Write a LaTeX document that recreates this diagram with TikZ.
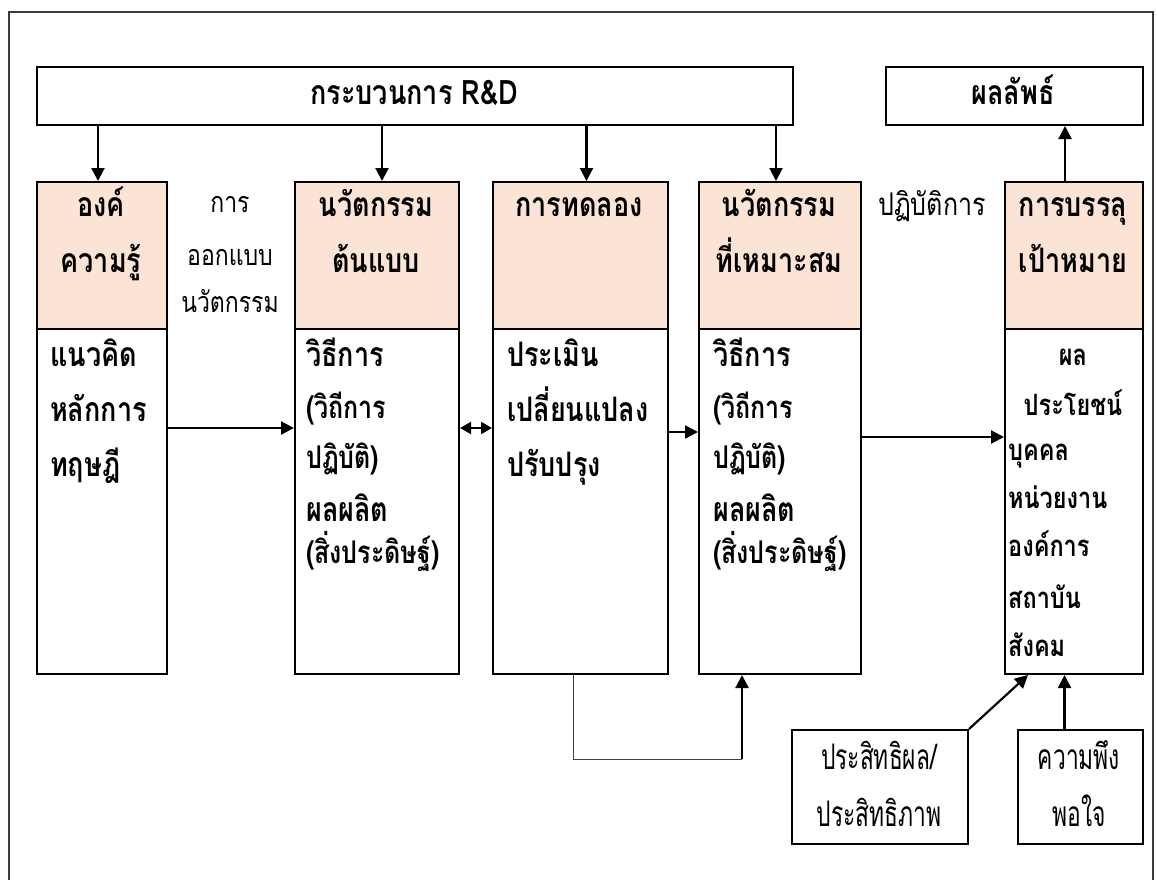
\documentclass[tikz,border=0pt]{standalone}
\usepackage{graphicx}
\usepackage{fontspec}
\setmainfont[Script=Thai]{Loma}
\usetikzlibrary{arrows.meta}
\definecolor{peach}{HTML}{FBE4D5}
\definecolor{framegray}{HTML}{3A3A3A}
% text styles: the face is drawn a little taller than Loma's own proportions
\newcommand\bt[1]{\scalebox{1}[1.25]{\fontsize{27}{27}\selectfont\bfseries #1}}
\newcommand\bs[1]{\scalebox{1}[1.25]{\fontsize{25}{25}\selectfont\bfseries #1}}
\newcommand\bg[1]{\scalebox{1}[1.25]{\fontsize{23.5}{23.5}\selectfont\bfseries #1}}
\newcommand\rt[1]{\scalebox{1}[1.25]{\fontsize{23}{23}\selectfont #1}}
\newcommand\rb[1]{\scalebox{1}[1.25]{\fontsize{25}{25}\selectfont #1}}
\newcommand\rc[1]{\scalebox{0.97}[1.5]{\fontsize{23.5}{23.5}\selectfont #1}}
\begin{document}
\begin{tikzpicture}[x=1pt,y=-1pt,
  box/.style={draw, line width=2pt, inner sep=0pt, anchor=north west},
  head/.style={box, fill=peach},
  arr/.style={line width=2.2pt, -{Triangle[width=13pt,length=13pt]}},
  darr/.style={line width=2.2pt, {Triangle[width=12pt,length=11pt]}-{Triangle[width=12pt,length=11pt]}},
  lbl/.style={inner sep=0pt, anchor=base west},
  clbl/.style={inner sep=0pt, anchor=base}]
\useasboundingbox (0,0) rectangle (1157,879);
\clip (0,0) rectangle (1157,879);
\fill[white] (0,0) rectangle (1157,879);
% outer frame, open at the foot of the page
\draw[framegray, line width=2.4pt] (9,900) -- (9,12) -- (1153,12) -- (1153,900);

% top bars
\node[box, minimum width=756pt, minimum height=58pt] (rd) at (36,66) {};
\node[clbl] (rdt) at (414,104) {\bt{กระบวนการ R\&D}};
\node[box, minimum width=257pt, minimum height=58pt] (res) at (885,66) {};
\node[clbl] (rest) at (1013,104) {\bt{ผลลัพธ์}};

% column heads
\node[head, minimum width=130pt, minimum height=147pt] (k1t) at (36,181) {};
\node[head, minimum width=164pt, minimum height=147pt] (k2t) at (294,181) {};
\node[head, minimum width=175pt, minimum height=147pt] (k3t) at (492,181) {};
\node[head, minimum width=162pt, minimum height=147pt] (k4t) at (698,181) {};
\node[head, minimum width=138pt, minimum height=147pt] (k5t) at (1004,181) {};
% column bodies
\node[box, minimum width=130pt, minimum height=345pt] (k1b) at (36,328) {};
\node[box, minimum width=164pt, minimum height=345pt] (k2b) at (294,328) {};
\node[box, minimum width=175pt, minimum height=345pt] (k3b) at (492,328) {};
\node[box, minimum width=162pt, minimum height=345pt] (k4b) at (698,328) {};
\node[box, minimum width=138pt, minimum height=345pt] (k5b) at (1004,328) {};

% head titles
\node[clbl] (h1a) at (101,216) {\bt{องค์}};
\node[clbl] (h1b) at (101,272) {\bt{ความรู้}};
\node[clbl] (h2a) at (376,216) {\bt{นวัตกรรม}};
\node[clbl] (h2b) at (376,272) {\bt{ต้นแบบ}};
\node[clbl] (h3a) at (579,216) {\bt{การทดลอง}};
\node[clbl] (h4a) at (779,216) {\bt{นวัตกรรม}};
\node[clbl] (h4b) at (779,272) {\bt{ที่เหมาะสม}};
\node[clbl] (h5a) at (1073,216) {\bt{การบรรลุ}};
\node[clbl] (h5b) at (1073,272) {\bt{เป้าหมาย}};

% labels between the heads
\node[clbl] (s1) at (230,212) {\rt{การ}};
\node[clbl] (s2) at (230,265) {\rt{ออกแบบ}};
\node[clbl] (s3) at (230,312) {\rt{นวัตกรรม}};
\node[clbl] (s4) at (932,215) {\rb{ปฏิบัติการ}};

% body texts
\node[lbl] (b11) at (50,366) {\bt{แนวคิด}};
\node[lbl] (b12) at (50,421) {\bt{หลักการ}};
\node[lbl] (b13) at (50,476) {\bt{ทฤษฎี}};

\node[lbl] (b21) at (306,366) {\bt{วิธีการ}};
\node[lbl] (b22) at (306,418) {\bs{(วิถีการ}};
\node[lbl] (b23) at (306,468) {\bs{ปฏิบัติ)}};
\node[lbl] (b24) at (306,521) {\bt{ผลผลิต}};
\node[lbl] (b25) at (306,563) {\bs{(สิ่งประดิษฐ์)}};

\node[lbl] (b31) at (507,366) {\bt{ประเมิน}};
\node[lbl] (b32) at (507,421) {\bt{เปลี่ยนแปลง}};
\node[lbl] (b33) at (507,476) {\bt{ปรับปรุง}};

\node[lbl] (b41) at (713,366) {\bt{วิธีการ}};
\node[lbl] (b42) at (713,418) {\bs{(วิถีการ}};
\node[lbl] (b43) at (713,468) {\bs{ปฏิบัติ)}};
\node[lbl] (b44) at (713,521) {\bt{ผลผลิต}};
\node[lbl] (b45) at (713,563) {\bs{(สิ่งประดิษฐ์)}};

\node[clbl] (b51) at (1073,365) {\bg{ผล}};
\node[clbl] (b52) at (1073,415) {\bg{ประโยชน์}};
\node[lbl] (b53) at (1008,460) {\bg{บุคคล}};
\node[lbl] (b54) at (1008,508) {\bg{หน่วยงาน}};
\node[lbl] (b55) at (1008,556) {\bg{องค์การ}};
\node[lbl] (b56) at (1008,608) {\bg{สถาบัน}};
\node[lbl] (b57) at (1008,656) {\bg{สังคม}};

% lower boxes
\node[box, minimum width=176pt, minimum height=114pt] (eff) at (791,729) {};
\node[clbl] (eff1) at (879,769) {\rc{ประสิทธิผล/}};
\node[clbl] (eff2) at (879,826) {\rc{ประสิทธิภาพ}};
\node[box, minimum width=125pt, minimum height=114pt] (sat) at (1017,729) {};
\node[clbl] (sat1) at (1079,769) {\rc{ความพึง}};
\node[clbl] (sat2) at (1079,826) {\rc{พอใจ}};

% arrows from the R&D bar
\draw[arr] ([xshift=-4pt]k1t.north |- rd.south) -- ([xshift=-4pt]k1t.north);
\draw[arr] ([xshift=5pt]k2t.north |- rd.south) -- ([xshift=5pt]k2t.north);
\draw[arr] ([xshift=6pt]k3t.north |- rd.south) -- ([xshift=6pt]k3t.north);
\draw[arr] ([xshift=-4pt]k4t.north |- rd.south) -- ([xshift=-4pt]k4t.north);
% arrow up to the result
\draw[arr] ([xshift=-9pt]k5t.north) -- ([xshift=-9pt]k5t.north |- res.south);

% arrows between the columns
\coordinate (ya) at (0,428);
\coordinate (yb) at (0,432);
\coordinate (yc) at (0,437);
\draw[arr] (k1b.east |- ya) -- (k2b.west |- ya);
\draw[darr] (k2b.east |- ya) -- (k3b.west |- ya);
\draw[arr] (k3b.east |- yb) -- (k4b.west |- yb);
\draw[arr] (k4b.east |- yc) -- (k5b.west |- yc);

% feedback loop under the trial column
\coordinate (lp1) at (573,759);
\coordinate (lp2) at (742,759);
\draw[line width=1pt, black!75] (k3b.south -| lp1) -- (lp1) -- (lp2);
\draw[arr] (lp2) -- (k4b.south -| lp2);

% inputs to the goal column
\draw[arr] (eff.north east) -- ([xshift=-46pt]k5b.south);
\draw[arr] ([xshift=-16pt]sat.north) -- ([xshift=-16pt]sat.north |- k5b.south);
\end{tikzpicture}
\end{document}
